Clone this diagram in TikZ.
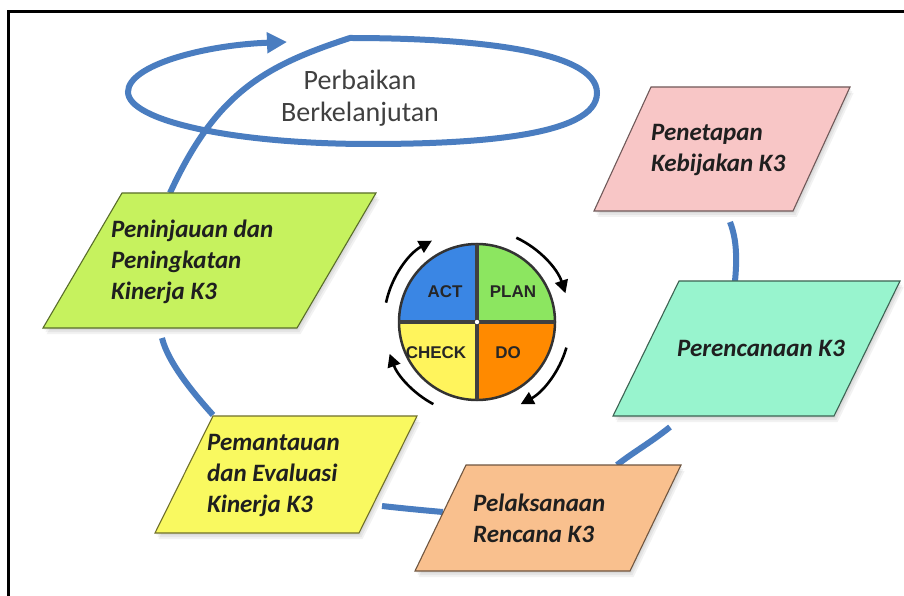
\documentclass[tikz,border=0pt]{standalone}
\usepackage{fontspec}
\setmainfont{Carlito}
\newfontfamily\pdcafont{Liberation Sans}
\usetikzlibrary{arrows.meta}
\definecolor{loopblue}{RGB}{74,125,192}
\definecolor{pinkf}{RGB}{248,198,198}
\definecolor{tealf}{RGB}{152,244,206}
\definecolor{orangef}{RGB}{249,192,142}
\definecolor{yellowf}{RGB}{249,249,96}
\definecolor{limef}{RGB}{198,242,94}
\definecolor{actc}{RGB}{58,134,228}
\definecolor{planc}{RGB}{140,230,96}
\definecolor{checkc}{RGB}{255,244,92}
\definecolor{doc}{RGB}{255,138,0}
\newcommand\pgram[7]{%
  \foreach \s in {2,4,6}{\fill[black,opacity=0.05,shift={(\s*0.6,-\s)}] (#3,#4) -- (#3+#7,#4) -- (#5+#7,#6) -- (#5,#6) -- cycle;}
  \filldraw[fill=#1, draw=#2, line width=1.1pt, line join=miter] (#3,#4) -- (#3+#7,#4) -- (#5+#7,#6) -- (#5,#6) -- cycle;}
\begin{document}
\begin{tikzpicture}[x=1pt,y=1pt,
  conn/.style={draw=loopblue, line width=6pt},
  boxtxt/.style={font=\bfseries\itshape\fontsize{25}{31}\selectfont, text=black!88, align=left, inner sep=0pt, anchor=west},
  pdtxt/.style={font=\pdcafont\bfseries\fontsize{17}{17}\selectfont, text=black!85, inner sep=0pt},
  pdarr/.style={line width=2.6pt, -{Triangle[length=13pt,width=13pt]}}
]
\useasboundingbox (0,0) rectangle (904,595);
\fill[white] (0,0) rectangle (904,595);
\draw[line width=3pt, line join=miter] (8,-5) -- (8,583) -- (910,583);

% connector end points
\coordinate (limeT) at (170,402);
\coordinate (corner) at (350,557);
\coordinate (loopR) at (597,502);
\coordinate (loopB) at (370,451);
\coordinate (loopL) at (128,503);
\coordinate (loopTip) at (287,553);
\coordinate (pinkS) at (730,373);
\coordinate (tealN) at (735,314);
\coordinate (tealS) at (670,168);
\coordinate (orangeN) at (617,130);
\coordinate (orangeW) at (443,83);
\coordinate (yellowE) at (382,89);
\coordinate (yellowN) at (213,180);
\coordinate (limeS) at (162,257);

% continuous improvement loop
\draw[conn, line join=miter, -{Triangle[length=20pt,width=20pt]}]
  (limeT) .. controls (216,502) and (264,529) .. (corner)
  .. controls (470,557) and (597,545) .. (loopR)
  .. controls (597,458) and (470,451) .. (loopB)
  .. controls (230,451) and (128,475) .. (loopL)
  .. controls (128,530) and (205,550) .. (loopTip);

% ring connectors
\draw[conn] (pinkS) .. controls (737,355) and (737,335) .. (tealN);
\draw[conn] (tealS) .. controls (650,152) and (632,142) .. (orangeN);
\draw[conn] (orangeW) .. controls (420,85) and (400,87) .. (yellowE);
\draw[conn] (yellowN) .. controls (195,200) and (168,232) .. (limeS);

% boxes
\pgram{pinkf}{pinkf!45!black}{594}{384}{651}{508}{199}
\pgram{tealf}{tealf!40!black}{613}{179}{679}{314}{221}
\pgram{orangef}{orangef!45!black}{415}{24}{466}{130}{215}
\pgram{yellowf}{yellowf!45!black}{155}{62}{213}{179}{204}
\pgram{limef}{limef!45!black}{43}{267}{122}{402}{254}

\node[boxtxt] (tpink) at (651,445) {Penetapan\\Kebijakan K3};
\node[boxtxt] (tteal) at (677,247) {Perencanaan K3};
\node[boxtxt] (torange) at (473,77) {Pelaksanaan\\Rencana K3};
\node[boxtxt] (tyellow) at (207,119) {Pemantauan\\dan Evaluasi\\Kinerja K3};
\node[boxtxt] (tlime) at (111,333) {Peninjauan dan\\Peningkatan\\Kinerja K3};

\node[font=\fontsize{28}{32}\selectfont, text=black!75, align=center, inner sep=0pt] (pb) at (360,497) {Perbaikan\\Berkelanjutan};

% PDCA wheel
\coordinate (c) at (477,273);
\fill[actc] (c) -- ++(180:78) arc[start angle=180,end angle=90,radius=78] -- cycle;
\fill[planc] (c) -- ++(90:78) arc[start angle=90,end angle=0,radius=78] -- cycle;
\fill[doc] (c) -- ++(0:78) arc[start angle=0,end angle=-90,radius=78] -- cycle;
\fill[checkc] (c) -- ++(-90:78) arc[start angle=-90,end angle=-180,radius=78] -- cycle;
\draw[line width=2.5pt, black!80] (c) circle[radius=78];
\draw[line width=4pt, black!75] (399,273) -- (555,273);
\draw[line width=4pt, black!75] (477,195) -- (477,351);
\fill[white] (c) circle[radius=2.2];

\node[pdtxt] (act) at (445,303) {ACT};
\node[pdtxt] (plan) at (513,303) {PLAN};
\node[pdtxt] (check) at (436,242) {CHECK};
\node[pdtxt] (do) at (508,242) {DO};

\draw[pdarr] ([shift={(168:93)}]c) arc[start angle=168,end angle=119,radius=93];
\draw[pdarr] ([shift={(65:93)}]c) arc[start angle=65,end angle=18,radius=93];
\draw[pdarr] ([shift={(-16:93)}]c) arc[start angle=-16,end angle=-62,radius=93];
\draw[pdarr] ([shift={(-118:93)}]c) arc[start angle=-118,end angle=-160,radius=93];
\end{tikzpicture}
\end{document}
